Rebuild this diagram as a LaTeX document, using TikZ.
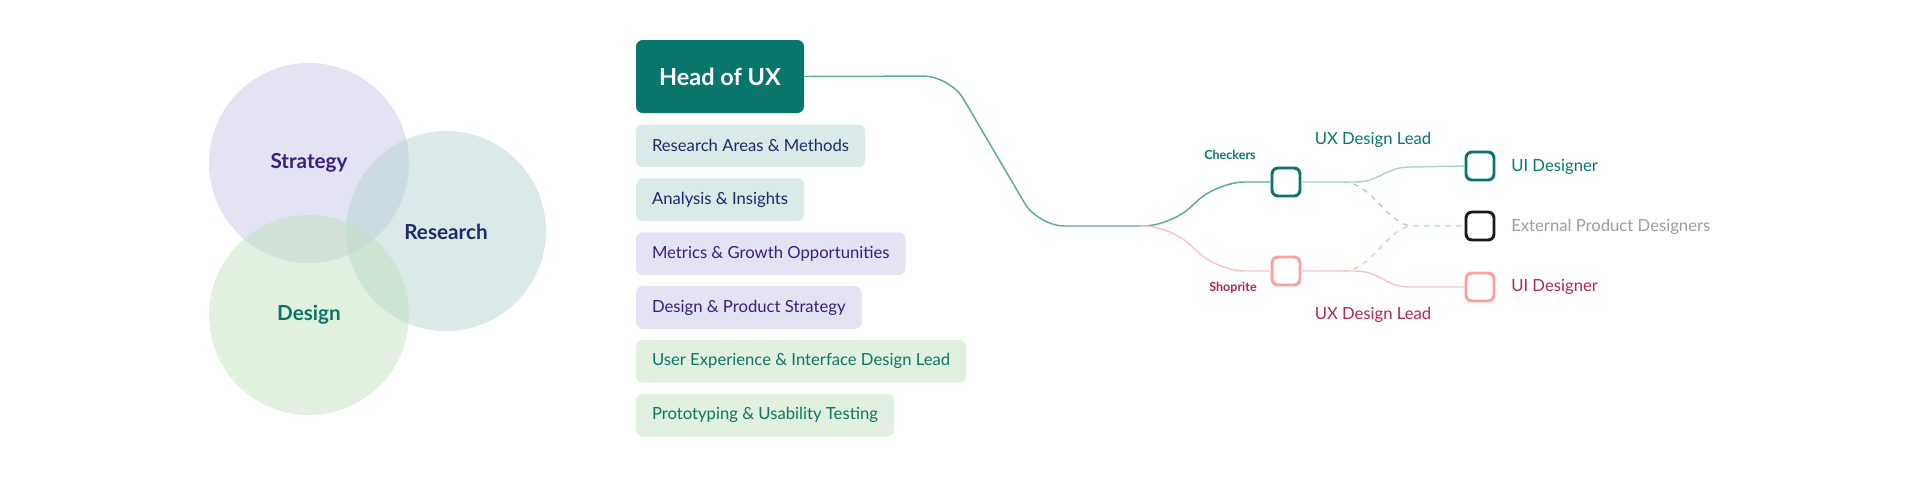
\documentclass[tikz,border=0pt]{standalone}
\usepackage{fontspec}
\setmainfont{Lato}
\usetikzlibrary{positioning}
\definecolor{uxteal}{HTML}{08766A}
\definecolor{uxline}{HTML}{5AAB9E}
\definecolor{uxlight}{HTML}{A8D5CC}
\definecolor{uxpink}{HTML}{F9A19A}
\definecolor{uxpinkline}{HTML}{FCC4C4}
\definecolor{uxcrimson}{HTML}{B0284D}
\definecolor{stratink}{HTML}{3B1E7E}
\definecolor{resink}{HTML}{1B2B6A}
\definecolor{desink}{HTML}{0B7667}
\definecolor{stratfill}{HTML}{C7C7E7}
\definecolor{resfill}{HTML}{B7D5D1}
\definecolor{desfill}{HTML}{C3E1BF}
\definecolor{extgray}{HTML}{9C9CA6}

\begin{document}
\begin{tikzpicture}[x=0.75pt, y=-0.75pt, font=\fontsize{12.5}{15}\selectfont, line join=round,
    item/.style={rounded corners=5pt, minimum height=32pt, inner xsep=12pt, inner ysep=0pt},
    slot/.style={draw, line width=2.2pt, rounded corners=4.5pt, minimum size=21pt, inner sep=0pt, fill=white},
    tag/.style={inner sep=0pt, anchor=west}]

    % canvas is 1920 x 479 px, one unit = one px
    \useasboundingbox (0,0) rectangle (1920,479);

    % Venn circles
    \fill[stratfill, fill opacity=0.5] (309,163) circle [radius=75pt];
    \fill[resfill, fill opacity=0.5] (446,231) circle [radius=75pt];
    \fill[desfill, fill opacity=0.5] (309,315) circle [radius=75pt];
    \node[font=\bfseries\fontsize{15.5}{18}\selectfont, text=stratink] (strat) at (309,163) {Strategy};
    \node[font=\bfseries\fontsize{15.5}{18}\selectfont, text=resink] (res) at (446,232) {Research};
    \node[font=\bfseries\fontsize{15.5}{18}\selectfont, text=desink] (des) at (309,315) {Design};

    % Head of UX and its list
    \node[fill=uxteal, rounded corners=5pt, minimum width=126pt, minimum height=54.75pt,
          text=white, font=\bfseries\fontsize{17.6}{20}\selectfont] (head) at (720,76.5) {Head of UX};
    \node[item, fill=resfill!50, text=resink, below right=8.25pt and 0pt of head.south west] (areas) {Research Areas \& Methods};
    \node[item, fill=resfill!50, text=resink, below right=8pt and 0pt of areas.south west] (insight) {Analysis \& Insights};
    \node[item, fill=stratfill!50, text=stratink, below right=8pt and 0pt of insight.south west] (metrics) {Metrics \& Growth Opportunities};
    \node[item, fill=stratfill!50, text=stratink, below right=8pt and 0pt of metrics.south west] (prodstrat) {Design \& Product Strategy};
    \node[item, fill=desfill!50, text=desink, below right=8pt and 0pt of prodstrat.south west] (uxlead) {User Experience \& Interface Design Lead};
    \node[item, fill=desfill!50, text=desink, below right=8pt and 0pt of uxlead.south west] (proto) {Prototyping \& Usability Testing};

    % Team boxes
    \node[slot, draw=uxteal] (ckbox) at (1286,182) {};
    \node[slot, draw=uxpink] (spbox) at (1286,271) {};
    \node[slot, draw=uxteal] (ui1) at (1480,166) {};
    \node[slot, draw=black!90] (ext) at (1480,226) {};
    \node[slot, draw=uxpink] (ui2) at (1480,287) {};

    % Labels
    \node[font=\bfseries\fontsize{9.4}{11}\selectfont, text=uxteal] (cklbl) at (1230,155) {Checkers};
    \node[font=\bfseries\fontsize{9.4}{11}\selectfont, text=uxcrimson] (splbl) at (1233,288) {Shoprite};
    \node[text=uxteal] (ckhead) at (1373,140) {UX Design Lead};
    \node[text=uxcrimson] (sphead) at (1373,315) {UX Design Lead};
    \node[tag, text=uxteal] (ui1txt) at (1511,167) {UI Designer};
    \node[tag, text=extgray] (exttxt) at (1511,227) {External Product Designers};
    \node[tag, text=uxcrimson] (ui2txt) at (1511,287) {UI Designer};

    % Connectors
    \coordinate (fork) at (1140,226);
    \coordinate (ckfork) at (1343,182);
    \coordinate (spfork) at (1343,271);
    \coordinate (meet) at (1413,226);
    \draw[uxline, line width=1.1pt, rounded corners=20pt]
        (head.east) -- (950,76) -- (1038,226) -- (1170,226) -- (1218,182) -- (ckbox.west);
    \draw[uxpinkline, line width=1.1pt, rounded corners=20pt]
        (fork) -- (1170,226) -- (1218,271) -- (spbox.west);
    \draw[uxlight, line width=1.1pt]
        (ckbox.east) -- (1355,182) .. controls (1380,182) and (1385,167) .. (1410,167) -- (ui1.west);
    \draw[uxpinkline, line width=1.1pt]
        (spbox.east) -- (1355,271) .. controls (1380,271) and (1385,287) .. (1410,287) -- (ui2.west);
    \draw[uxlight, line width=1.1pt, dash pattern=on 4pt off 4pt]
        (ckfork) .. controls (1372,182) and (1388,226) .. (meet) -- (ext.west);
    \draw[uxpinkline, line width=1.1pt, dash pattern=on 4pt off 4pt]
        (spfork) .. controls (1372,271) and (1388,226) .. (meet);

\end{tikzpicture}
\end{document}
